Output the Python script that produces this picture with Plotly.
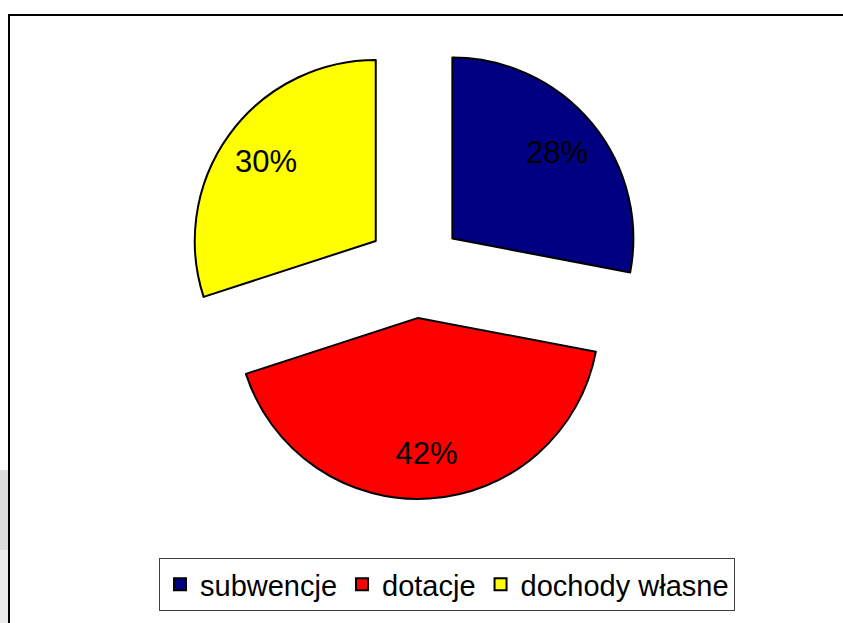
import plotly.graph_objects as go

# data
categories = ['subwencje', 'dotacje', 'dochody własne']
shares = [28, 42, 30]

COLORS = ['#000080', '#ff0000', '#ffff00']

W, H = 843, 623
PULL = 0.268


def px_x(x):
    return x / W


def px_y(y):
    return 1 - y / H


pie_domain = dict(x=[px_x(185.5), px_x(644.5)], y=[px_y(499), px_y(40)])

fig = go.Figure()

# the slices
fig.add_trace(go.Pie(
    labels=categories,
    values=shares,
    sort=False,
    direction='clockwise',
    rotation=0,
    pull=[PULL] * len(shares),
    marker=dict(colors=COLORS, line=dict(color='black', width=2)),
    textinfo='none',
    hoverinfo='label+percent',
    domain=pie_domain,
))

# same pie as a transparent ring, only to carry the % labels further out
fig.add_trace(go.Pie(
    labels=categories,
    values=shares,
    sort=False,
    direction='clockwise',
    rotation=0,
    hole=0.5,
    pull=[PULL] * len(shares),
    marker=dict(colors=['rgba(0,0,0,0)'] * len(shares), line=dict(width=0)),
    texttemplate='%{percent:.0%}',
    textposition='inside',
    insidetextorientation='horizontal',
    textfont=dict(family='Liberation Sans, Arial', size=31, color='black'),
    hoverinfo='skip',
    showlegend=False,
    domain=pie_domain,
))

# chart frame and grey strip at the lower left
shapes = [
    dict(type='rect', xref='paper', yref='paper',
         x0=0, x1=px_x(8), y0=px_y(550), y1=px_y(470),
         fillcolor='#dcdcdc', line=dict(width=0), layer='below'),
    dict(type='rect', xref='paper', yref='paper',
         x0=0, x1=px_x(8), y0=0, y1=px_y(550),
         fillcolor='#ebebeb', line=dict(width=0), layer='below'),
    dict(type='rect', xref='paper', yref='paper',
         x0=px_x(9), x1=1.02, y0=-0.02, y1=px_y(15),
         line=dict(color='black', width=2), fillcolor='rgba(0,0,0,0)'),
]

fig.update_layout(
    width=W, height=H,
    margin=dict(l=0, r=0, t=0, b=0),
    paper_bgcolor='white',
    plot_bgcolor='white',
    font=dict(family='Liberation Sans, Arial', color='black'),
    shapes=shapes,
    showlegend=True,
    legend=dict(
        orientation='h',
        x=px_x(447), xanchor='center',
        y=px_y(611), yanchor='bottom',
        font=dict(family='Liberation Sans, Arial', size=29, color='black'),
        bordercolor='#404040', borderwidth=1,
        bgcolor='white',
        itemwidth=30,
    ),
)

fig.write_html("out.html", config={'displayModeBar': False},
               post_script="document.body.style.margin='0';")
